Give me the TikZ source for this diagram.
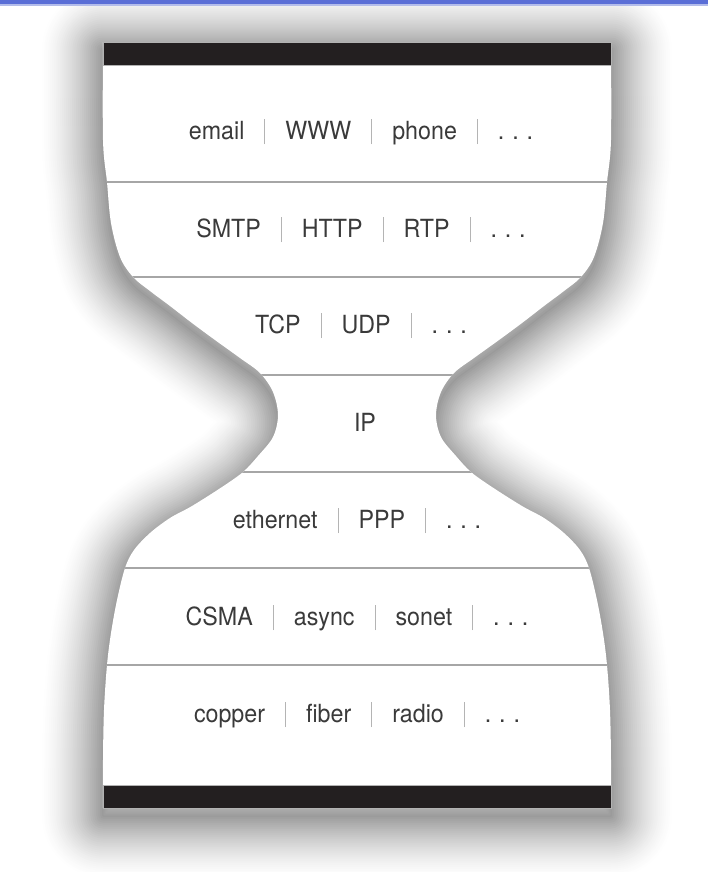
\documentclass[tikz,border=0pt]{standalone}
\usepackage{fontspec}
\setmainfont[FakeStretch=0.93]{TeX Gyre Heros}
\usepackage{xcolor}
\definecolor{txtc}{HTML}{3A3A3A}
\definecolor{sepc}{HTML}{B4B4B4}
\definecolor{divc}{HTML}{A6A6A6}
\definecolor{barc}{HTML}{231F20}
\definecolor{blueA}{HTML}{5A6ED6}
\definecolor{blueB}{HTML}{B3BCEA}
\newcommand{\lsep}{\hspace{15pt}{\color{sepc}\rule[-3.75pt]{0.75pt}{18.75pt}}\hspace{15pt}}
\newcommand{\mydots}{.\hspace{5.9pt}.\hspace{5.9pt}.}
\def\leftcontour{(103,42) (103,140) (107,182) (111,223) (120,257) (133,277) (150,291) (170,306) (192,323) (215,340) (240,358) (260,373) (273,392) (278,415) (273,437) (258,456) (243,472) (222,487) (192,506) (170,518) (150,533) (134,550) (125,568) (117,600) (111,633) (107,665) (104,710) (103,760) (103,808)}
\def\rightcontour{(611,808) (611,760) (610,710) (607,665) (603,633) (597,600) (589,568) (580,550) (564,533) (544,518) (522,506) (492,487) (471,472) (456,456) (441,437) (436,415) (441,392) (454,373) (474,358) (499,340) (522,323) (544,306) (564,291) (581,277) (594,257) (603,223) (607,182) (611,140) (611,42)}
\def\shapepath{plot[smooth,tension=0.55] coordinates {\leftcontour} -- plot[smooth,tension=0.55] coordinates {\rightcontour} -- cycle}
\tikzset{
  rowtext/.style={anchor=base, inner sep=0pt, text=txtc, font=\fontsize{18.75pt}{22pt}\selectfont},
  divider/.style={draw=divc, line width=1.5pt},
  blackbar/.style={fill=barc, draw=gray!60, line width=0.5pt},
  shadowstroke/.style={line join=round}
}
\begin{document}
\begin{tikzpicture}[x=0.75pt, y=-0.75pt]
\useasboundingbox (0,0) rectangle (708,872);
\fill[white] (0,0) rectangle (708,872);
% soft shadow: opaque strokes, widest and lightest first
\foreach \w in {125,121,...,1} {
  \pgfmathsetmacro{\lw}{\w*0.75}
  \pgfmathsetmacro{\dk}{40*(1-\w/128)^1.5}
  \draw[shadowstroke, draw=black!\dk, line width=\lw pt, shift={(0,8)}] \shapepath;
}
% top blue band
\fill[blueB] (0,0) rectangle (708,6);
\fill[blueA] (0,0) rectangle (708,3.6);
% white body
\fill[white] \shapepath;
% dividers clipped to the body
\begin{scope}
  \clip \shapepath;
  \foreach \yy in {182,277,375,472,568,665} {
    \draw[divider] (90,\yy) -- (620,\yy);
  }
\end{scope}
% black bars
\draw[blackbar] (103,42) rectangle (611,65);
\draw[blackbar] (103,785) rectangle (611,808);
% layer texts
\node[rowtext] (app) at (361,139) {email\lsep WWW\lsep phone\lsep\mydots};
\node[rowtext] (proto) at (361,237) {SMTP\lsep HTTP\lsep RTP\lsep\mydots};
\node[rowtext] (transport) at (361,333) {TCP\lsep UDP\lsep\mydots};
\node[rowtext] (ip) at (365,431) {IP};
\node[rowtext] (link) at (357,528) {ethernet\lsep PPP\lsep\mydots};
\node[rowtext] (mac) at (357,625) {CSMA\lsep async\lsep sonet\lsep\mydots};
\node[rowtext] (phys) at (357,722) {copper\lsep fiber\lsep radio\lsep\mydots};
\end{tikzpicture}
\end{document}
